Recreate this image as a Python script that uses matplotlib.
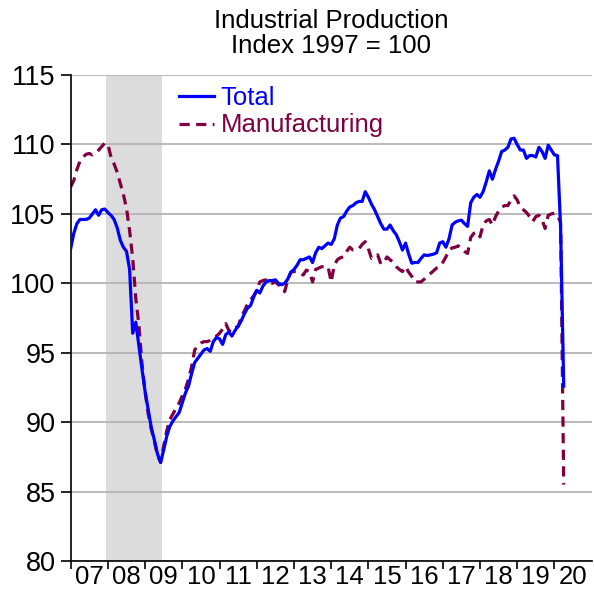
import numpy as np
import matplotlib
matplotlib.use("Agg")
from matplotlib import pyplot as plt

plt.rcParams['font.family'] = ['Liberation Sans', 'DejaVu Sans']

# monthly values, Jan 2007 .. Apr 2020
total = [102.5, 103.6, 104.3, 104.6, 104.6, 104.6, 104.7, 105.0, 105.3, 104.9, 105.3, 105.35,
         105.1, 104.9, 104.6, 104.0, 103.1, 102.6, 102.3, 101.0, 96.4, 97.2, 95.5, 93.8,
         92.2, 90.9, 89.6, 88.7, 87.7, 87.1, 88.0, 89.0, 89.7, 90.1, 90.4, 90.7,
         91.4, 92.1, 92.6, 93.5, 94.3, 94.6, 94.9, 95.2, 95.3, 95.1, 95.8, 96.1,
         96.0, 95.6, 96.3, 96.5, 96.2, 96.6, 96.9, 97.3, 97.8, 98.2, 98.4, 99.0,
         99.5, 99.3, 99.8, 100.1, 100.2, 100.2, 100.25, 100.0, 99.9, 100.0, 100.3, 100.8,
         101.0, 101.3, 101.7, 101.7, 101.8, 101.9, 101.5, 102.2, 102.6, 102.5, 102.7, 102.9,
         102.8, 103.2, 104.2, 104.7, 104.8, 105.2, 105.5, 105.6, 105.8, 105.9, 105.9, 106.6,
         106.2, 105.7, 105.3, 104.8, 104.3, 103.9, 103.9, 104.2, 103.8, 103.5, 103.0, 102.4,
         102.9, 102.1, 101.45, 101.5, 101.5, 101.8, 102.05, 102.0, 102.05, 102.1, 102.2, 102.9,
         103.0, 102.6, 103.2, 104.2, 104.4, 104.5, 104.55, 104.3, 104.1, 105.8, 106.2, 106.4,
         106.2, 106.6, 107.3, 108.1, 107.5, 108.2, 108.8, 109.5, 109.6, 109.8, 110.4, 110.45,
         110.0, 109.6, 109.6, 109.0, 109.2, 109.2, 109.1, 109.8, 109.5, 109.0, 109.95, 109.6,
         109.25, 109.2, 104.0, 92.6]

manuf = [106.95, 107.4, 108.2, 108.8, 109.1, 109.3, 109.35, 109.25, 109.4, 109.6, 109.85, 110.1,
         110.0, 109.1, 108.6, 108.0, 107.2, 106.4, 105.4, 103.8, 101.8, 98.9, 97.0, 94.2,
         92.2, 90.6, 89.5, 88.6, 87.6, 87.1, 88.3, 89.4, 90.2, 90.6, 91.0, 91.4,
         91.9, 92.4, 93.1, 94.0, 95.2, 95.5, 95.7, 95.8, 95.8, 95.9, 96.1, 96.2,
         96.4, 96.7, 97.1, 96.6, 96.5, 96.8, 96.9, 97.6, 98.0, 98.5, 98.8, 99.1,
         99.5, 100.1, 100.2, 100.25, 100.0, 100.0, 100.1, 99.9, 99.75, 99.4, 100.25, 100.8,
         100.85, 100.85, 100.7, 100.6, 100.95, 100.85, 100.1, 101.0, 101.1, 101.2, 101.2, 101.2,
         100.1, 101.3, 101.7, 101.85, 101.9, 102.3, 102.6, 102.4, 102.4, 102.5, 102.8, 103.0,
         102.5, 101.8, 101.9, 102.05, 101.4, 101.5, 101.9, 101.7, 101.5, 101.2, 101.0, 100.85,
         101.2, 100.8, 100.5, 100.1, 100.1, 100.1, 100.3, 100.5, 100.7, 100.9, 101.1, 101.2,
         101.5, 101.9, 102.4, 102.55, 102.6, 102.7, 102.5, 102.3, 102.15, 103.3, 103.6, 103.7,
         103.35, 104.2, 104.5, 104.6, 104.2, 104.8, 105.2, 105.5, 105.6, 105.6, 106.0, 106.3,
         106.0, 105.5, 105.3, 105.1, 104.8, 104.45, 104.8, 104.9, 104.6, 103.95, 104.9, 105.0,
         105.05, 104.9, 104.4, 85.5]

year_labels = ['07', '08', '09', '10', '11', '12', '13', '14', '15', '16', '17', '18', '19', '20']
recession = (2007.95, 2009.45)

t = 2007 + np.arange(len(total)) / 12.0

fig = plt.figure(figsize=(5.94, 5.94), dpi=100)
ax = fig.add_axes([0.119, 0.0556, 0.877, 0.818])

ax.axvspan(recession[0], recession[1], color='#dcdcdc', lw=0, zorder=0)
for v in range(80, 116, 5):
    ax.axhline(v, color='#b4b4b4', lw=1.3, zorder=1)

ax.plot(t, total, color='#0000ff', lw=2.3, label='Total', zorder=3)
ax.plot(t, manuf, color='#7f0040', lw=2.3, ls=(0, (3.2, 2)), label='Manufacturing', zorder=2)

ax.set_xlim(2007, 2021)
ax.set_ylim(80, 115)
ax.set_yticks(range(80, 116, 5))
ax.set_xticks(np.arange(2007, 2021))
ax.set_xticklabels([])
ax.set_xticks(np.arange(2007.5, 2021, 1), minor=True)
ax.set_xticklabels(year_labels, minor=True)
ax.tick_params(axis='x', which='minor', length=0, labelsize=18.5, pad=3)
ax.tick_params(axis='x', which='major', direction='out', length=6, width=1.2)
ax.tick_params(axis='y', direction='out', length=7, width=1.2, labelsize=19.5, pad=4)

for s in ['top', 'right']:
    ax.spines[s].set_visible(False)
ax.spines['left'].set_linewidth(1.2)
ax.spines['bottom'].set_linewidth(1.2)

leg = ax.legend(loc='upper left', bbox_to_anchor=(0.178, 1.01), frameon=False,
                fontsize=18.5, handlelength=1.35, handletextpad=0.28, labelspacing=0.15,
                borderaxespad=0.2)
for txt, line in zip(leg.get_texts(), leg.get_lines()):
    txt.set_color(line.get_color())

fig.text(0.557, 0.965, 'Industrial Production', ha='center', va='center', fontsize=18.5)
fig.text(0.557, 0.923, 'Index 1997 = 100', ha='center', va='center', fontsize=18.5)

fig.savefig('out.png', dpi=100)
